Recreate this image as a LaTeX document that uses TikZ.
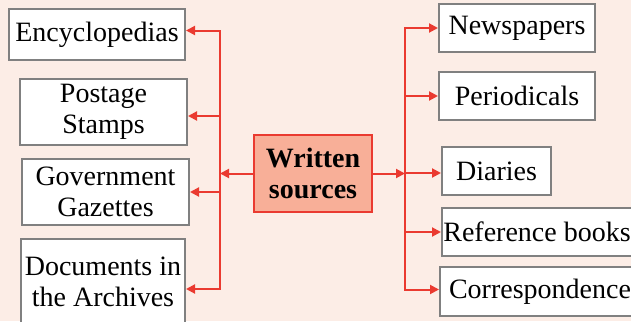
\documentclass[tikz,border=0pt]{standalone}
\usepackage{fontspec}
\setmainfont{Liberation Serif}
\usetikzlibrary{arrows.meta}
\definecolor{pagebg}{RGB}{252,237,230}
\definecolor{srcfill}{RGB}{248,175,152}
\definecolor{srcline}{RGB}{234,58,48}
\definecolor{boxline}{RGB}{128,128,128}
\begin{document}
\begin{tikzpicture}[x=0.5pt,y=-0.5pt]
            \tikzstyle{kind}=[draw=boxline,line width=1pt,fill=white,align=center,inner sep=0pt,font=\fontsize{14}{15.5}\selectfont]
            \tikzstyle{source}=[kind,draw=srcline,fill=srcfill,font=\bfseries\fontsize{14}{15.5}\selectfont]
            \tikzstyle{link}=[draw=srcline,line width=1pt,-{Triangle[length=4.5pt,width=4.5pt]}]
            \fill[pagebg] (0,0) rectangle (631,321);
            \useasboundingbox (0,0) rectangle (631,321);
            % centre
            \node [source,minimum width=59pt,minimum height=38.5pt] (ws) at (313,173.5) {Written\\sources};
            \coordinate (lbus) at (220,173.5);
            \coordinate (rbus) at (405,173.5);
            % left side
            \begin{scope}
               \node [kind,minimum width=88pt,minimum height=25.5pt] (enc) at (97,34.5) {Encyclopedias};
               \node [kind,minimum width=83.5pt,minimum height=33pt] (stamps) at (103.5,112) {Postage\\Stamps};
               \node [kind,minimum width=83.5pt,minimum height=33pt] (gaz) at (105.5,192) {Government\\Gazettes};
               \node [kind,minimum width=82pt,minimum height=43pt] (arch) at (103,282) {Documents in\\the Archives};
               \path[link] (ws) -- (lbus);
               \path[link] (lbus) |- ([yshift=2pt]enc.east);
               \path[link] (lbus) |- ([yshift=-2pt]stamps.east);
               \path[link] (lbus) |- (gaz.east);
               \path[link] (lbus) |- ([yshift=-3.5pt]arch.east);
            \end{scope}
            % right side
            \begin{scope}
               \node [kind,minimum width=78pt,minimum height=24pt] (news) at (517,28) {Newspapers};
               \node [kind,minimum width=78pt,minimum height=24pt] (period) at (517,96) {Periodicals};
               \node [kind,minimum width=54.5pt,minimum height=24pt] (diary) at (496.5,171) {Diaries};
               \node [kind,minimum width=95pt,minimum height=24pt] (refbk) at (537,232) {Reference books};
               \node [kind,minimum width=100pt,minimum height=24.5pt] (corr) at (540,291.5) {Correspondence};
               \path[link] (ws) -- (rbus);
               \path[link] (rbus) |- (news.west);
               \path[link] (rbus) |- (period.west);
               \path[link] (rbus) |- ([yshift=-1pt]diary.west);
               \path[link] (rbus) |- (refbk.west);
               \path[link] (rbus) |- ([yshift=1pt]corr.west);
            \end{scope}
        \end{tikzpicture}
\end{document}
